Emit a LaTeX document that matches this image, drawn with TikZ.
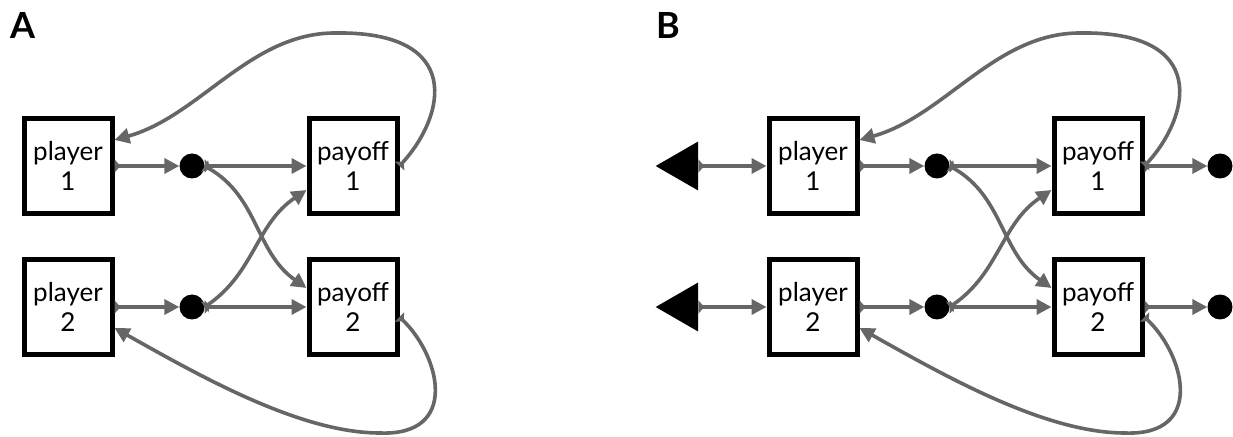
\documentclass[tikz,border=0pt]{standalone}
\usepackage{fontspec}
\setmainfont{Lato}
\usetikzlibrary{arrows.meta,shapes.geometric}
\tikzset{
	box/.style={draw=black, line width=5pt, minimum width=88pt, minimum height=95pt, inner sep=0pt, align=center, font=\fontsize{26}{30}\selectfont},
	blob/.style={circle, fill=black, minimum size=25pt, inner sep=0pt},
	flag/.style={regular polygon, regular polygon sides=3, shape border rotate=90, fill=black, minimum size=56.6pt, inner sep=0pt},
	wire/.style={draw=black!60, line width=3.6pt, {Triangle[reversed,length=6pt,width=13pt]}-{Triangle[length=15pt,width=15pt]}},
	panel/.style={font=\fontsize{36}{36}\selectfont\bfseries}
}

\begin{document}
\begin{tikzpicture}[x=1pt, y=1pt]
		%%%%% START %%%%%
		\useasboundingbox (0, 0) rectangle (1233, 436);
		
		%% panel A
		\node[panel] (la) at (23, 411) {A};
		
		\node[box] (pa1) at (68, 270) {player\\1};
		\node[box] (pa2) at (68, 129) {player\\2};
		\node[box] (qa1) at (353, 270) {payoff\\1};
		\node[box] (qa2) at (353, 129) {payoff\\2};
		\node[blob] (da1) at (192, 270) {};
		\node[blob] (da2) at (192, 129) {};
		
		\draw[wire] (pa1) -- (da1);
		\draw[wire] (pa2) -- (da2);
		\draw[wire] (da1) -- (qa1);
		\draw[wire] (da2) -- (qa2);
		\draw[wire] (da1.east) to[out=-30, in=145] ([yshift=19pt]qa2.west);
		\draw[wire] (da2.east) to[out=35, in=-146] ([yshift=-24pt]qa1.west);
		
		\draw[wire] (qa1.east) .. controls (445, 320) and (465, 405) .. (335, 403) .. controls (250, 403) and (200, 320) .. ([yshift=26pt]pa1.east);
		\draw[wire] ([yshift=-10pt]qa2.east) .. controls (440, 80) and (460, 0) .. (380, 3) .. controls (300, 3) and (200, 60) .. ([yshift=-21pt]pa2.east);
		
		%% panel B
		\node[panel] (lb) at (668, 411) {B};
		
		\node[flag] (ta1) at (684, 270) {};
		\node[flag] (ta2) at (684, 129) {};
		\node[box] (pb1) at (813, 270) {player\\1};
		\node[box] (pb2) at (813, 129) {player\\2};
		\node[box] (qb1) at (1098, 270) {payoff\\1};
		\node[box] (qb2) at (1098, 129) {payoff\\2};
		\node[blob] (db1) at (937, 270) {};
		\node[blob] (db2) at (937, 129) {};
		\node[blob] (rb1) at (1220, 270) {};
		\node[blob] (rb2) at (1220, 129) {};
		
		\draw[wire] (ta1) -- (pb1);
		\draw[wire] (ta2) -- (pb2);
		\draw[wire] (pb1) -- (db1);
		\draw[wire] (pb2) -- (db2);
		\draw[wire] (db1) -- (qb1);
		\draw[wire] (db2) -- (qb2);
		\draw[wire] (db1.east) to[out=-30, in=145] ([yshift=19pt]qb2.west);
		\draw[wire] (db2.east) to[out=35, in=-146] ([yshift=-24pt]qb1.west);
		\draw[wire] (qb1) -- (rb1);
		\draw[wire] (qb2) -- (rb2);
		
		\draw[wire] (qb1.east) .. controls (1190, 320) and (1210, 405) .. (1080, 403) .. controls (995, 403) and (945, 320) .. ([yshift=26pt]pb1.east);
		\draw[wire] ([yshift=-10pt]qb2.east) .. controls (1185, 80) and (1205, 0) .. (1125, 3) .. controls (1045, 3) and (945, 60) .. ([yshift=-21pt]pb2.east);
		
		%%%%% END %%%%%
\end{tikzpicture}
\end{document}
